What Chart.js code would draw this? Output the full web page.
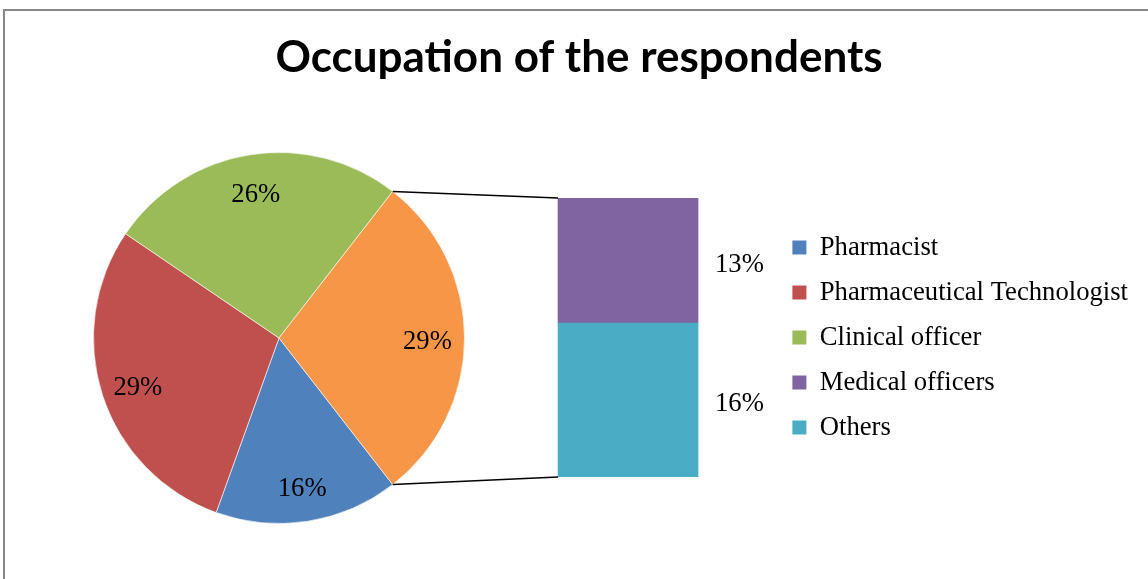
<!DOCTYPE html>
<html>
<head>
<meta charset="utf-8">
<script src="https://cdn.jsdelivr.net/npm/chart.js@4.4.1/dist/chart.umd.min.js"></script>
<style>
  html, body { margin: 0; padding: 0; background: #fff; overflow: hidden; }
  #wrap { position: relative; width: 1148px; height: 579px; overflow: hidden; }
  #frame { position: absolute; left: 3px; top: 9px; width: 1200px; height: 700px;
           border-left: 2px solid #878787; border-top: 2px solid #878787; }
  .layer { position: absolute; left: 0; top: 0; width: 1148px; height: 579px; }
</style>
</head>
<body>
<div id="wrap">
  <div id="frame"></div>
  <div class="layer"><canvas id="pie"></canvas></div>
  <div class="layer"><canvas id="bar"></canvas></div>
</div>
<script>
// main pie
const pieLabels = ["Pharmacist", "Pharmaceutical Technologist", "Clinical officer", "Other"];
const pieValues = [16, 29, 26, 29];
const pieColors = ["#4F81BD", "#C0504D", "#9BBB59", "#F79646"];

// breakdown of "Other" (top to bottom)
const barLabels = ["Medical officers", "Others"];
const barValues = [13, 16];
const barColors = ["#8064A2", "#4BACC6"];

const labelFont = '26.67px "Liberation Serif"';
const total = pieValues.reduce((a, b) => a + b, 0);
const otherShare = pieValues[3];

const pieLabelPlugin = {
  id: "pieLabels",
  afterDatasetsDraw(chart) {
    const ctx = chart.ctx;
    const meta = chart.getDatasetMeta(0);
    ctx.save();
    ctx.font = labelFont;
    ctx.fillStyle = "#000";
    ctx.textAlign = "center";
    ctx.textBaseline = "middle";
    meta.data.forEach((arc, i) => {
      const mid = (arc.startAngle + arc.endAngle) / 2;
      const r = arc.outerRadius * 0.8;
      ctx.fillText(pieValues[i] + "%", arc.x + Math.cos(mid) * r, arc.y + Math.sin(mid) * r + 4);
    });
    ctx.restore();
  }
};

const pieChart = new Chart(document.getElementById("pie"), {
  type: "pie",
  data: {
    labels: pieLabels,
    datasets: [{
      data: pieValues,
      backgroundColor: pieColors,
      borderColor: "rgba(255,255,255,0.6)",
      borderWidth: 1
    }]
  },
  options: {
    responsive: true,
    maintainAspectRatio: false,
    animation: false,
    devicePixelRatio: 1,
    rotation: 90 + (otherShare / 2) * 360 / total,
    layout: { padding: { left: 93, right: 683, top: 152, bottom: 55 } },
    plugins: {
      legend: { display: false },
      tooltip: { enabled: false }
    }
  },
  plugins: [pieLabelPlugin]
});

const barExtrasPlugin = {
  id: "barExtras",
  afterDatasetsDraw(chart) {
    const ctx = chart.ctx;
    ctx.save();
    ctx.font = labelFont;
    ctx.fillStyle = "#000";
    ctx.textAlign = "left";
    ctx.textBaseline = "middle";
    chart.data.datasets.forEach((ds, i) => {
      const bar = chart.getDatasetMeta(i).data[0];
      ctx.fillText(ds.data[0] + "%", bar.x + bar.width / 2 + 17, (bar.y + bar.base) / 2 + 4);
    });
    // connector lines from the "Other" slice to the bar
    const arc = pieChart.getDatasetMeta(0).data[3];
    const topBar = chart.getDatasetMeta(chart.data.datasets.length - 1).data[0];
    const bottomBar = chart.getDatasetMeta(0).data[0];
    ctx.strokeStyle = "#000";
    ctx.lineWidth = 1.5;
    ctx.beginPath();
    ctx.moveTo(arc.x + Math.cos(arc.startAngle) * arc.outerRadius, arc.y + Math.sin(arc.startAngle) * arc.outerRadius);
    ctx.lineTo(topBar.x - topBar.width / 2, topBar.y);
    ctx.moveTo(arc.x + Math.cos(arc.endAngle) * arc.outerRadius, arc.y + Math.sin(arc.endAngle) * arc.outerRadius);
    ctx.lineTo(bottomBar.x - bottomBar.width / 2, bottomBar.base);
    ctx.stroke();
    ctx.restore();
  }
};

const legendNames = pieLabels.slice(0, 3).concat(barLabels);
const legendColors = pieColors.slice(0, 3).concat(barColors);

// stacked from the bottom up
const barDatasets = barLabels.map((name, i) => ({
  label: name,
  data: [barValues[i]],
  backgroundColor: barColors[i],
  barThickness: 140
})).reverse();

new Chart(document.getElementById("bar"), {
  type: "bar",
  data: { labels: [""], datasets: barDatasets },
  options: {
    responsive: true,
    maintainAspectRatio: false,
    animation: false,
    devicePixelRatio: 1,
    layout: { padding: { left: 20, right: 10, top: 0, bottom: 102 } },
    scales: {
      x: { display: false, stacked: true },
      y: {
        stacked: true,
        min: 0,
        max: barValues.reduce((a, b) => a + b, 0),
        ticks: { display: false },
        grid: { display: false },
        border: { display: false },
        afterFit(scale) { scale.width = 462; }
      }
    },
    plugins: {
      tooltip: { enabled: false },
      title: {
        display: true,
        text: "Occupation of the respondents",
        color: "#000",
        font: { family: "Lato", size: 44, weight: "bold" },
        padding: { top: 31.4, bottom: 113.8 }
      },
      legend: {
        position: "right",
        fullSize: false,
        align: "center",
        maxWidth: 400,
        onClick: null,
        labels: {
          color: "#000",
          font: { family: "Liberation Serif", size: 26.67 },
          boxWidth: 14,
          boxHeight: 14,
          padding: 18.33,
          generateLabels: () => legendNames.map((name, i) => ({
            text: name,
            fillStyle: legendColors[i],
            strokeStyle: legendColors[i],
            lineWidth: 0,
            hidden: false,
            index: i
          }))
        }
      }
    }
  },
  plugins: [barExtrasPlugin]
});
</script>
</body>
</html>
